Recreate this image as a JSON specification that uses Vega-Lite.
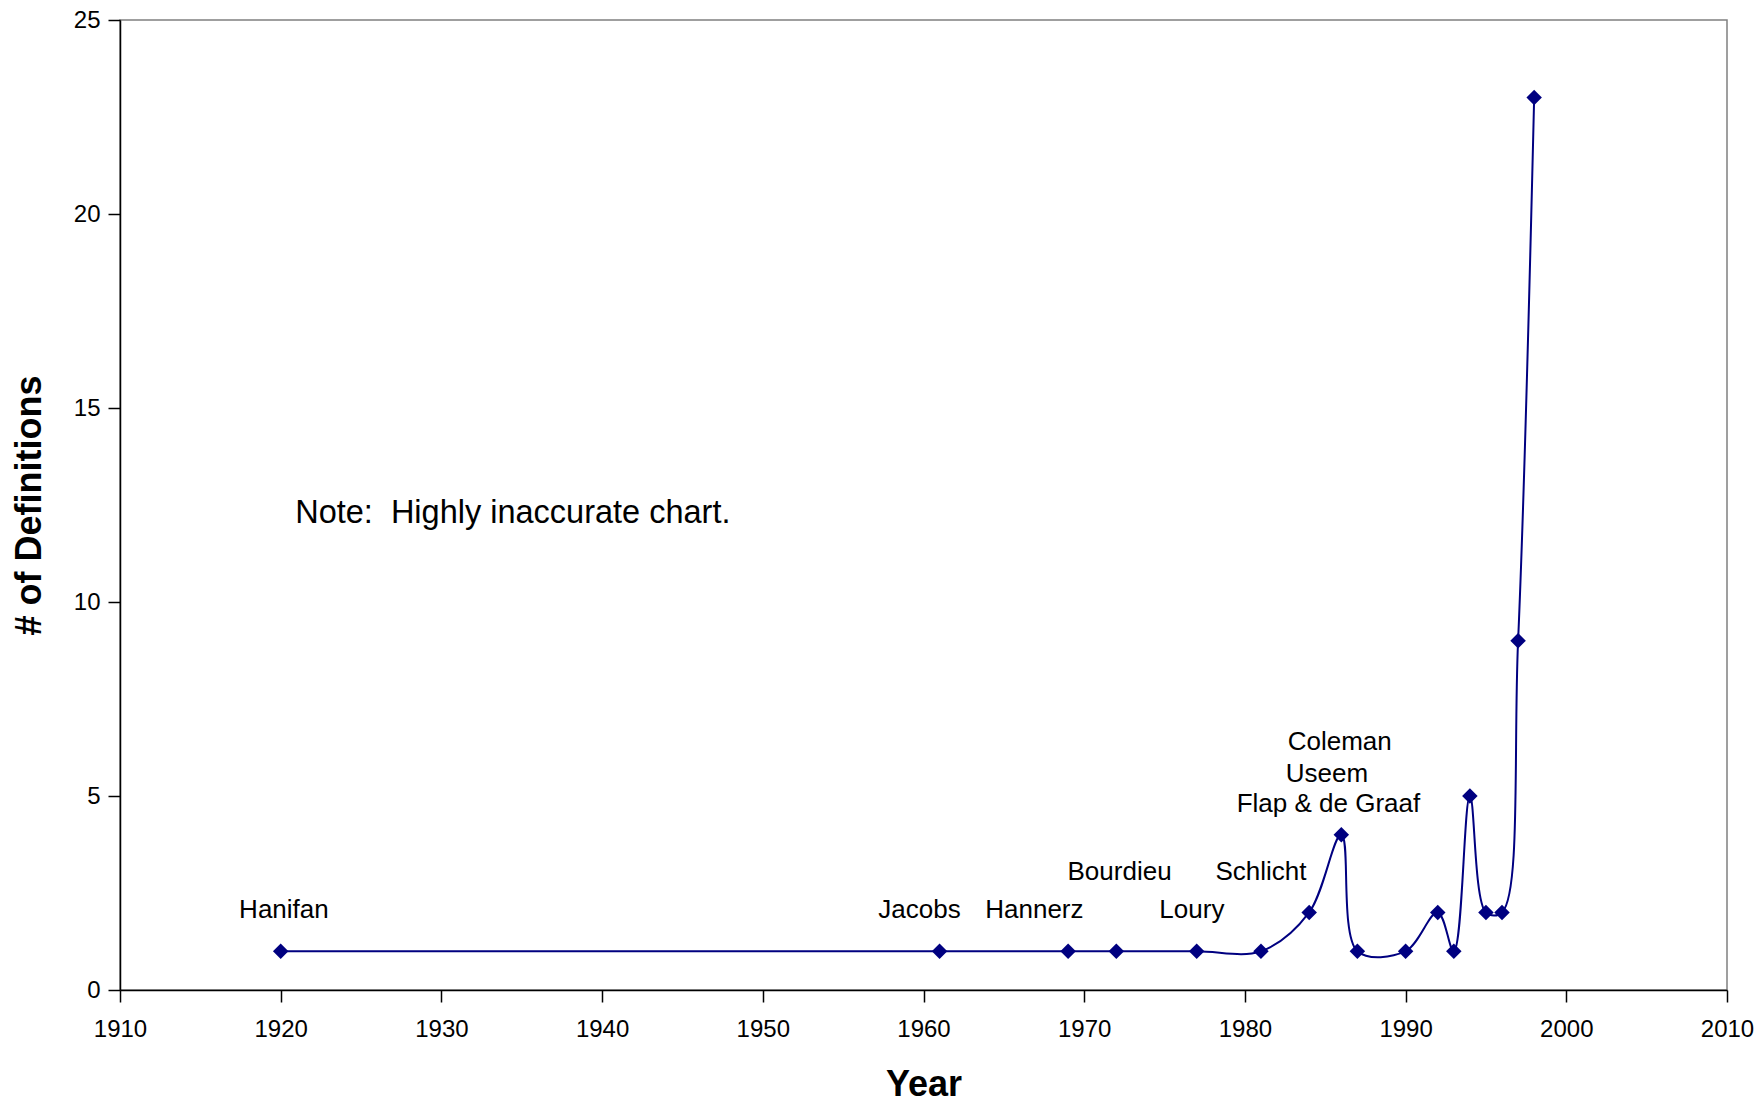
{
  "$schema": "https://vega.github.io/schema/vega-lite/v6.json",
  "autosize": "none",
  "width": 1607,
  "height": 970,
  "padding": {"left": 120, "top": 20, "right": 34, "bottom": 112},
  "background": "white",
  "config": {
    "view": {"stroke": "#808080", "strokeWidth": 1.5},
    "font": "Liberation Sans",
    "axis": {
      "grid": false,
      "labelFlush": false,
      "domainColor": "black",
      "tickColor": "black",
      "labelColor": "black",
      "titleColor": "black",
      "labelFont": "Liberation Sans",
      "titleFont": "Liberation Sans",
      "labelFontSize": 24,
      "labelFontWeight": "normal",
      "titleFontSize": 36,
      "titleFontWeight": "bold",
      "tickSize": 12,
      "domainWidth": 1.5,
      "tickWidth": 1.5
    }
  },
  "datasets": {
    "pts": [
      {"year": 1920, "defs": 1},
      {"year": 1961, "defs": 1},
      {"year": 1969, "defs": 1},
      {"year": 1972, "defs": 1},
      {"year": 1977, "defs": 1},
      {"year": 1981, "defs": 1},
      {"year": 1984, "defs": 2},
      {"year": 1986, "defs": 4},
      {"year": 1987, "defs": 1},
      {"year": 1990, "defs": 1},
      {"year": 1992, "defs": 2},
      {"year": 1993, "defs": 1},
      {"year": 1994, "defs": 5},
      {"year": 1995, "defs": 2},
      {"year": 1996, "defs": 2},
      {"year": 1997, "defs": 9},
      {"year": 1998, "defs": 23}
    ],
    "labels": [
      {"year": 1920.2, "defs": 2.06, "label": "Hanifan"},
      {"year": 1959.75, "defs": 2.06, "label": "Jacobs"},
      {"year": 1966.9, "defs": 2.06, "label": "Hannerz"},
      {"year": 1972.2, "defs": 3.04, "label": "Bourdieu"},
      {"year": 1976.7, "defs": 2.06, "label": "Loury"},
      {"year": 1981.0, "defs": 3.04, "label": "Schlicht"},
      {"year": 1985.9, "defs": 6.4, "label": "Coleman"},
      {"year": 1985.1, "defs": 5.56, "label": "Useem"},
      {"year": 1985.2, "defs": 4.8, "label": "Flap & de Graaf"}
    ],
    "note": [
      {"year": 1920.9, "defs": 12.3, "label": "Note:\u00a0 Highly inaccurate chart."}
    ]
  },
  "layer": [
    {
      "data": {"name": "pts"},
      "mark": {"type": "line", "interpolate": "catmull-rom", "color": "#000080", "strokeWidth": 2},
      "encoding": {
        "x": {
          "field": "year", "type": "quantitative",
          "scale": {"domain": [1910, 2010], "nice": false, "zero": false},
          "axis": {
            "title": "Year",
            "values": [1910, 1920, 1930, 1940, 1950, 1960, 1970, 1980, 1990, 2000, 2010],
            "format": "d",
            "labelPadding": 15,
            "titlePadding": 26
          }
        },
        "y": {
          "field": "defs", "type": "quantitative",
          "scale": {"domain": [0, 25], "nice": false},
          "axis": {
            "title": "# of Definitions",
            "values": [0, 5, 10, 15, 20, 25],
            "labelPadding": 8,
            "titlePadding": 25
          }
        }
      }
    },
    {
      "data": {"name": "pts"},
      "mark": {"type": "point", "shape": "diamond", "filled": true, "color": "#000080", "opacity": 1, "size": 240},
      "encoding": {
        "x": {"field": "year", "type": "quantitative"},
        "y": {"field": "defs", "type": "quantitative"}
      }
    },
    {
      "data": {"name": "labels"},
      "mark": {"type": "text", "fontSize": 26, "color": "black", "align": "center", "baseline": "middle", "font": "Liberation Sans"},
      "encoding": {
        "x": {"field": "year", "type": "quantitative"},
        "y": {"field": "defs", "type": "quantitative"},
        "text": {"field": "label"}
      }
    },
    {
      "data": {"name": "note"},
      "mark": {"type": "text", "fontSize": 32.5, "color": "black", "align": "left", "baseline": "middle", "font": "Liberation Sans"},
      "encoding": {
        "x": {"field": "year", "type": "quantitative"},
        "y": {"field": "defs", "type": "quantitative"},
        "text": {"field": "label"}
      }
    }
  ]
}
